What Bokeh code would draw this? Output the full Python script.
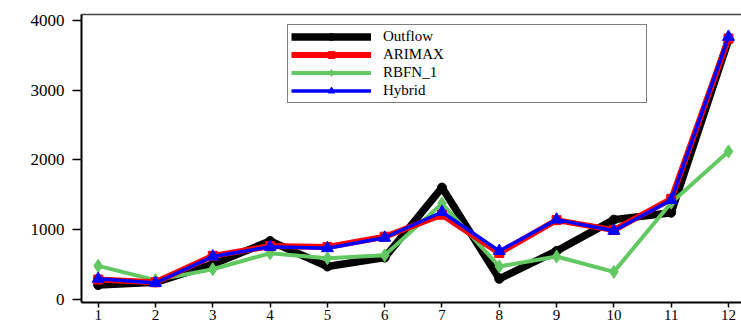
from bokeh.plotting import figure
from bokeh.models import Range1d, FixedTicker, LinearAxis, Legend, LegendItem
from bokeh.embed import file_html
from bokeh.resources import INLINE

# ---- data ----
months = [1, 2, 3, 4, 5, 6, 7, 8, 9, 10, 11, 12]
outflow = [200, 240, 500, 833, 467, 595, 1600, 290, 690, 1140, 1240, 3720]
arimax = [280, 240, 620, 760, 747, 895, 1210, 660, 1133, 990, 1438, 3740]
rbfn_1 = [476, 271, 428, 657, 586, 628, 1370, 467, 610, 390, 1383, 2120]
hybrid = [290, 230, 610, 750, 730, 880, 1250, 690, 1140, 980, 1420, 3765]
y_ticks = [0, 1000, 2000, 3000, 4000]

FONT = "Liberation Serif"

p = figure(width=741, height=322, x_range=Range1d(0.709, 12.227), y_range=Range1d(-50, 4086),
           output_backend="svg", toolbar_location=None,
           min_border_left=81, min_border_right=0, min_border_top=14, min_border_bottom=10)
p.outline_line_color = None
p.grid.visible = False
p.background_fill_color = "white"
p.border_fill_color = "white"

xa = p.xaxis[0]
xa.ticker = FixedTicker(ticks=months)
xa.major_label_text_font = FONT
xa.major_label_text_font_size = "15px"
xa.major_label_text_color = "black"
xa.major_label_standoff = 2
xa.major_tick_out = 5
xa.major_tick_in = 0
xa.minor_tick_line_color = None
xa.axis_line_width = 2
xa.major_tick_line_width = 1.5
xa.axis_line_color = "black"

ya = p.yaxis[0]
ya.ticker = FixedTicker(ticks=y_ticks)
ya.major_label_text_font = FONT
ya.major_label_text_font_size = "17px"
ya.major_label_text_color = "black"
ya.major_label_standoff = 8
ya.major_tick_out = 9
ya.major_tick_in = 0
ya.minor_tick_line_color = None
ya.axis_line_width = 2
ya.major_tick_line_width = 1.5
ya.axis_line_color = "black"

top = LinearAxis(ticker=FixedTicker(ticks=[]), major_label_text_font_size="0px",
                 axis_line_color="#444444", axis_line_width=1.5,
                 major_tick_line_color=None, minor_tick_line_color=None)
p.add_layout(top, "above")

# series
l_out = p.line(months, outflow, line_color="black", line_width=7.5)
m_out = p.scatter(months, outflow, marker="circle", size=9, color="black")
l_rb = p.line(months, rbfn_1, line_color="#62c862", line_width=4)
m_rb = p.scatter(months, rbfn_1, marker="diamond", size=13, color="#62c862")
l_ar = p.line(months, arimax, line_color="red", line_width=6)
m_ar = p.scatter(months, arimax, marker="square", size=9, color="red")
l_hy = p.line(months, hybrid, line_color="blue", line_width=3.5)
m_hy = p.scatter(months, hybrid, marker="triangle", size=12, color="blue")

legend = Legend(items=[
    LegendItem(label="Outflow", renderers=[l_out, m_out]),
    LegendItem(label="ARIMAX", renderers=[l_ar, m_ar]),
    LegendItem(label="RBFN_1", renderers=[l_rb, m_rb]),
    LegendItem(label="Hybrid", renderers=[l_hy, m_hy]),
], location=(206, 199), orientation="vertical",
    border_line_color="black", border_line_width=1.5,
    padding=3, spacing=1, margin=0,
    glyph_width=80, glyph_height=17, label_height=17, label_width=260,
    label_standoff=12, label_text_font=FONT, label_text_font_size="15px",
    label_text_color="black", background_fill_color="white", background_fill_alpha=1)
p.add_layout(legend)

open("out.html", "w").write(file_html(p, INLINE))
